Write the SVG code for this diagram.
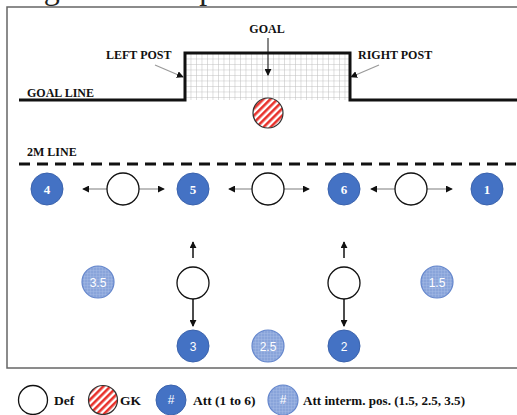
<svg xmlns="http://www.w3.org/2000/svg" width="517" height="415" viewBox="0 0 517 415">
  <style>
    .lbl { font-family: "Liberation Serif", "Times New Roman", serif; font-weight: bold; font-size: 12px; fill: #111; }
    .leg { font-family: "Liberation Serif", "Times New Roman", serif; font-weight: bold; font-size: 13.5px; fill: #111; }
    .def { fill: #fff; stroke: #111; stroke-width: 1.3; }
    .gk { fill: url(#stripes); stroke: #333; stroke-width: 1.2; }
    .att { fill: #4472c4; stroke: #3b63ad; stroke-width: 1; }
    .mid { fill: url(#midtex); stroke: #6486cc; stroke-width: 1.2; }
    .num { font-family: "Liberation Serif", "Times New Roman", serif; font-weight: bold; font-size: 13px; fill: #fff; text-anchor: middle; }
    .nums { font-family: "Liberation Sans", Arial, sans-serif; font-size: 12px; fill: #fff; text-anchor: middle; }
    .gray { stroke: #9a9a9a; stroke-width: 1.3; fill: none; marker-end: url(#head); }
    .blk { stroke: #111; stroke-width: 1.5; fill: none; marker-end: url(#head); }
  </style>
  <defs>
    <marker id="head" viewBox="0 0 8 8" refX="7" refY="4" markerWidth="7" markerHeight="7" markerUnits="userSpaceOnUse" orient="auto">
      <path d="M0,0 L8,4 L0,8 z" fill="#111"/>
    </marker>
    <pattern id="net" x="185" y="53" width="5.5" height="5.5" patternUnits="userSpaceOnUse">
      <rect width="5.5" height="5.5" fill="#fff"/>
      <path d="M0,0 V5.5 M0,0 H5.5" stroke="#bdbdbd" stroke-width="1"/>
    </pattern>
    <pattern id="stripes" width="5" height="5" patternUnits="userSpaceOnUse" patternTransform="rotate(45)">
      <rect width="5" height="5" fill="#fff"/>
      <rect width="2.6" height="5" fill="#e8322c"/>
    </pattern>
    <pattern id="midtex" width="3" height="3" patternUnits="userSpaceOnUse">
      <rect width="3" height="3" fill="#89a4da"/>
      <path d="M0,0 H3 M0,0 V3" stroke="#abbfe8" stroke-width="0.7"/>
    </pattern>
  </defs>

  <!-- caption running above the top edge -->
  <text x="17" y="-1" font-family="'Liberation Serif', 'Times New Roman', serif" font-size="32" fill="#222">Fig. 3. Attack positions of 6 vs 6 Situation</text>

  <!-- court frame -->
  <rect x="7" y="7" width="530" height="361" fill="none" stroke="#666" stroke-width="1.5"/>

  <!-- goal and lines -->
  <g id="goal">
    <rect x="185" y="53" width="165" height="47" fill="url(#net)"/>
    <path d="M19,100 H185 V53 H350 V100 H517" fill="none" stroke="#111" stroke-width="3"/>
    <text class="lbl" x="267" y="33" text-anchor="middle">GOAL</text>
    <text class="lbl" x="106" y="59">LEFT POST</text>
    <text class="lbl" x="358" y="59">RIGHT POST</text>
    <text class="lbl" x="27" y="97">GOAL LINE</text>
  </g>
  <g id="two-m-line">
    <path d="M19,164 H517" stroke="#111" stroke-width="3" stroke-dasharray="11,7"/>
    <text class="lbl" x="27" y="156">2M LINE</text>
  </g>

  <g id="connectors">
    <path class="blk" d="M268,38 V75" style="stroke-width:1"/>
    <path class="gray" d="M155,65 L183,77"/>
    <path class="gray" d="M379,65 L351,77"/>

    <path class="gray" d="M108,189 H83"/>
    <path class="gray" d="M138,189 H164"/>
    <path class="gray" d="M253,189 H229"/>
    <path class="gray" d="M283,189 H309"/>
    <path class="gray" d="M396,189 H371"/>
    <path class="gray" d="M426,189 H452"/>

    <path class="blk" d="M193,258 V242"/>
    <path class="blk" d="M344,258 V242"/>
    <path class="blk" d="M193,299 V326"/>
    <path class="blk" d="M344,299 V326"/>
  </g>

  <g id="gk"><circle class="gk" cx="268" cy="113" r="15"/></g>

  <g id="att4"><circle class="att" cx="47" cy="189" r="16"/><text class="num" x="47" y="194">4</text></g>
  <g id="def1"><circle class="def" cx="123" cy="189" r="16"/></g>
  <g id="att5"><circle class="att" cx="193" cy="189" r="16"/><text class="num" x="193" y="194">5</text></g>
  <g id="def2"><circle class="def" cx="268" cy="189" r="16"/></g>
  <g id="att6"><circle class="att" cx="344" cy="189" r="16"/><text class="num" x="344" y="194">6</text></g>
  <g id="def3"><circle class="def" cx="411" cy="189" r="16"/></g>
  <g id="att1"><circle class="att" cx="487" cy="189" r="16"/><text class="num" x="487" y="194">1</text></g>

  <g id="mid35"><circle class="mid" cx="98" cy="282" r="16"/><text class="nums" x="98" y="286.5">3.5</text></g>
  <g id="def4"><circle class="def" cx="193" cy="283" r="16"/></g>
  <g id="def5"><circle class="def" cx="344" cy="283" r="16"/></g>
  <g id="mid15"><circle class="mid" cx="437" cy="282" r="16"/><text class="nums" x="437" y="286.5">1.5</text></g>

  <g id="att3"><circle class="att" cx="193" cy="346" r="16"/><text class="nums" x="193" y="350.5">3</text></g>
  <g id="mid25"><circle class="mid" cx="268" cy="346" r="16"/><text class="nums" x="268" y="350.5">2.5</text></g>
  <g id="att2"><circle class="att" cx="344" cy="346" r="16"/><text class="nums" x="344" y="350.5">2</text></g>

  <!-- legend -->
  <g id="legend">
    <circle class="def" cx="33" cy="400" r="14.5"/>
    <text class="leg" x="54" y="405">Def</text>
    <circle class="gk" cx="103" cy="400" r="14.5"/>
    <text class="leg" x="120" y="405">GK</text>
    <circle class="att" cx="171" cy="400" r="15"/>
    <text class="nums" x="171" y="404">#</text>
    <text class="leg" x="193" y="405">Att (1 to 6)</text>
    <circle class="mid" cx="283" cy="400" r="15"/>
    <text class="nums" x="283" y="404">#</text>
    <text class="leg" x="303" y="405" textLength="162" lengthAdjust="spacingAndGlyphs">Att interm. pos. (1.5, 2.5, 3.5)</text>
  </g>
</svg>
